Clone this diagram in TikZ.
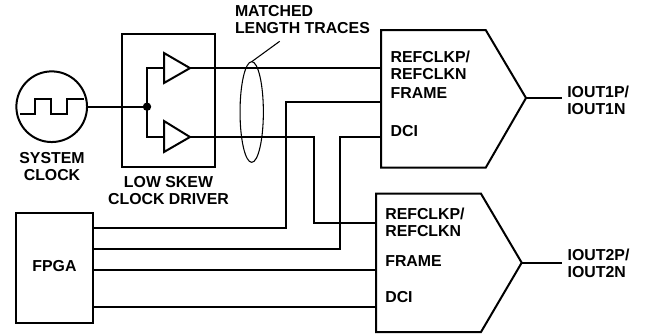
\documentclass[tikz,border=0pt]{standalone}
\usepackage{fontspec}
\usetikzlibrary{shapes.geometric}
\setmainfont{Liberation Sans}
\tikzset{
  wire/.style={line width=1.45pt,line join=miter},
  outline/.style={line width=1.5pt,line join=miter},
  thin wire/.style={line width=0.8pt},
  lbl/.style={font=\bfseries\fontsize{11.9}{12.6}\selectfont,inner sep=0pt,outer sep=0pt,align=left},
  clbl/.style={lbl,align=center},
  box/.style={draw,outline,inner sep=0pt,outer sep=0pt}
}
\begin{document}
\begin{tikzpicture}[x=0.75pt,y=-0.75pt]
\useasboundingbox (0,0) rectangle (645,333);
% source and driver
\node[box,circle,minimum size=53pt] (clk) at (51.7,106.7) {};
\draw[wire] (20,114) -- (35,114) -- (35,99) -- (51,99) -- (51,114) -- (67,114) -- (67,99) -- (84,99);
\node[box,minimum width=69.75pt,minimum height=99.5pt] (drv) at (168.5,100.5) {};
\coordinate (split) at (147,106.7);
\coordinate (t1a) at (164,53); \coordinate (t1b) at (164,83); \coordinate (t1) at (190,68.1);
\coordinate (t2a) at (164,121); \coordinate (t2b) at (164,152); \coordinate (t2) at (190,137);
\draw[outline] (t1a) -- (t1) -- (t1b) -- cycle;
\draw[outline] (t2a) -- (t2) -- (t2b) -- cycle;
\draw[wire] (clk.east) -- (split);
\fill (split) circle[radius=4.2];
\draw[wire] (164,68.1) -- (147,68.1) -- (147,137) -- (164,137);
% converters
\coordinate (a1tl) at (381,30); \coordinate (a1tr) at (485.7,30); \coordinate (a1) at (526,98);
\coordinate (a1br) at (485.7,167.7); \coordinate (a1bl) at (381,167.7);
\draw[outline] (a1tl) -- (a1tr) -- (a1) -- (a1br) -- (a1bl) -- cycle;
\coordinate (a2tl) at (376,193.7); \coordinate (a2tr) at (481,193.7); \coordinate (a2) at (521.7,262.7);
\coordinate (a2br) at (481,332); \coordinate (a2bl) at (376,332);
\draw[outline] (a2tl) -- (a2tr) -- (a2) -- (a2br) -- (a2bl) -- cycle;
% FPGA
\node[box,minimum width=57.75pt,minimum height=82.5pt] (fpga) at (54.5,268) {};
\node[lbl] (fpgal) at (54.5,266) {FPGA};
% pins
\coordinate (p1c) at (381,68.1); \coordinate (p1f) at (381,102); \coordinate (p1d) at (381,137.3);
\coordinate (p2c) at (376,222.7); \coordinate (p2f) at (376,270); \coordinate (p2d) at (376,306.7);
\coordinate (f1) at (93,228); \coordinate (f2) at (93,249); \coordinate (f3) at (93,270); \coordinate (f4) at (93,306.7);
\coordinate (o1) at (561.7,98); \coordinate (o2) at (561.7,262.7);
% connectors
\draw[wire] (t1) -- (p1c);
\draw[wire] (t2) -- (314.3,137) |- (p2c);
\draw[wire] (f1) -- (286.3,228) |- (p1f);
\draw[wire] (f2) -- (340,249) |- (p1d);
\draw[wire] (f3) -- (p2f);
\draw[wire] (f4) -- (p2d);
\draw[wire] (a1) -- (o1);
\draw[wire] (a2) -- (o2);
% matched traces
\node[draw,thin wire,ellipse,minimum width=17.5pt,minimum height=75.5pt,inner sep=0pt,outer sep=0pt] (el) at (251.7,112) {};
\coordinate (lead) at (279.7,41.3);
\draw[thin wire] (lead) -- (el.north);
% labels
\node[clbl] (sys) at (52,166.5) {SYSTEM\\CLOCK};
\node[clbl] (low) at (168.5,190.5) {LOW SKEW\\CLOCK DRIVER};
\node[lbl,anchor=west] (mat) at (235,19.3) {MATCHED\\LENGTH TRACES};
\node[lbl,anchor=west] (r1) at (390.7,65.7) {REFCLKP/\\REFCLKN};
\node[lbl,anchor=west] (fr1) at (390.7,93.5) {FRAME};
\node[lbl,anchor=west] (d1) at (390.7,131) {DCI};
\node[lbl,anchor=west] (i1) at (567.3,100) {IOUT1P/\\IOUT1N};
\node[lbl,anchor=west] (r2) at (385.3,222.3) {REFCLKP/\\REFCLKN};
\node[lbl,anchor=west] (fr2) at (385.3,261) {FRAME};
\node[lbl,anchor=west] (d2) at (385.3,297) {DCI};
\node[lbl,anchor=west] (i2) at (567.7,263.3) {IOUT2P/\\IOUT2N};
\end{tikzpicture}
\end{document}
